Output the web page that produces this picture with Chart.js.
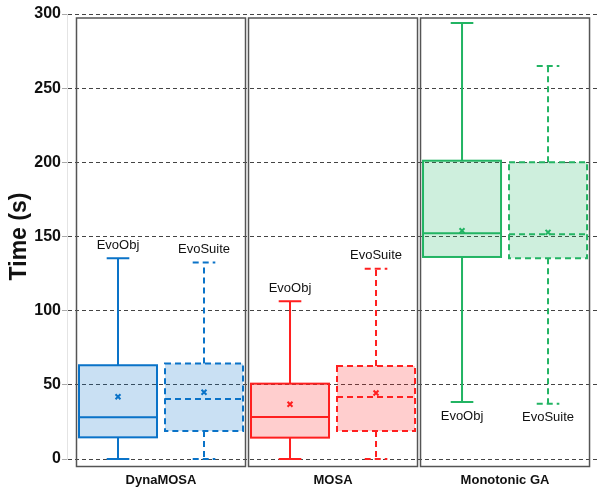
<!DOCTYPE html>
<html>
<head>
<meta charset="utf-8">
<script src="https://cdn.jsdelivr.net/npm/chart.js@4/dist/chart.umd.min.js"></script>
<style>
  html, body { margin: 0; padding: 0; background: #fff; }
  #wrap { width: 598px; height: 489px; }
</style>
</head>
<body>
<div id="wrap"><canvas id="c"></canvas></div>
<script>
// ---------------- data ----------------
const groups = ['DynaMOSA', 'MOSA', 'Monotonic GA'];
const tools = ['EvoObj', 'EvoSuite'];
// one entry per box: DynaMOSA/EvoObj, DynaMOSA/EvoSuite, MOSA/EvoObj, MOSA/EvoSuite, GA/EvoObj, GA/EvoSuite
const whiskerLow  = [0, 0, 0, 0, 38.4, 37.3];
const q1          = [14.6, 18.9, 14.4, 18.9, 136.2, 135.3];
const median      = [28.1, 40.4, 28.3, 41.8, 152.2, 151.5];
const q3          = [63.2, 64.3, 50.8, 62.7, 201.1, 200.0];
const whiskerHigh = [135.3, 132.4, 106.3, 128.3, 293.9, 265.0];
const mean        = [42.0, 45.0, 36.9, 44.5, 153.9, 152.8];
const yMin = 0, yMax = 300, yStep = 50;

// ---------------- styles ----------------
const groupColors = ['#0a73c8', '#ff1f1f', '#22b463'];
const fillAlpha = 0.22;
const dashPattern = [6, 4];
const font = 'Arial, "Liberation Sans", sans-serif';

function rgba(hex, a) {
  const n = parseInt(hex.slice(1), 16);
  return 'rgba(' + (n >> 16) + ',' + ((n >> 8) & 255) + ',' + (n & 255) + ',' + a + ')';
}
const boxColor = (i) => groupColors[Math.floor(i / 2)];
const isDashed = (i) => i % 2 === 1;

// ---------------- boxplot drawing ----------------
const boxPlugin = {
  id: 'boxes',
  afterDatasetDraw(chart, args) {
    if (args.index !== 0) return;
    const ctx = chart.ctx;
    const y = chart.scales.y;
    const bars = args.meta.data;
    ctx.save();
    bars.forEach((bar, i) => {
      const half = bar.width / 2;
      const cx = bar.x;
      const capHalf = bar.width * 0.145;
      ctx.strokeStyle = boxColor(i);
      ctx.lineWidth = 2;
      ctx.setLineDash(isDashed(i) ? dashPattern : []);
      const yQ1 = y.getPixelForValue(q1[i]);
      const yQ3 = y.getPixelForValue(q3[i]);
      const yMed = y.getPixelForValue(median[i]);
      const yLo = y.getPixelForValue(whiskerLow[i]);
      const yHi = y.getPixelForValue(whiskerHigh[i]);
      // box
      ctx.strokeRect(cx - half, yQ3, half * 2, yQ1 - yQ3);
      ctx.beginPath();
      // median
      ctx.moveTo(cx - half, yMed); ctx.lineTo(cx + half, yMed);
      // whiskers
      ctx.moveTo(cx, yQ3); ctx.lineTo(cx, yHi);
      ctx.moveTo(cx, yQ1); ctx.lineTo(cx, yLo);
      // caps
      ctx.moveTo(cx - capHalf, yHi); ctx.lineTo(cx + capHalf, yHi);
      ctx.moveTo(cx - capHalf, yLo); ctx.lineTo(cx + capHalf, yLo);
      ctx.stroke();
    });
    ctx.restore();
  },
  afterDraw(chart) {
    const ctx = chart.ctx;
    const x = chart.scales.x, y = chart.scales.y;
    const area = chart.chartArea;
    ctx.save();
    // group frames + group names
    groups.forEach((g, gi) => {
      const left = x.getPixelForValue(gi * 2 - 0.5) + 1.5;
      const right = x.getPixelForValue(gi * 2 + 1.5) - 1.5;
      const top = area.top + 4;
      const bottom = area.bottom + 7.5;
      ctx.strokeStyle = '#555';
      ctx.lineWidth = 1.5;
      ctx.setLineDash([]);
      ctx.strokeRect(left, top, right - left, bottom - top);
      ctx.fillStyle = '#111';
      ctx.font = 'bold 13px ' + font;
      ctx.textAlign = 'center';
      ctx.textBaseline = 'middle';
      ctx.fillText(g, (left + right) / 2, area.bottom + 21);
    });
    // tool labels above / below each box
    ctx.font = '13px ' + font;
    ctx.fillStyle = '#111';
    ctx.textAlign = 'center';
    ctx.textBaseline = 'middle';
    whiskerHigh.forEach((hi, i) => {
      const cx = x.getPixelForValue(i);
      const name = tools[i % 2];
      if (hi > 250) {
        ctx.fillText(name, cx, y.getPixelForValue(whiskerLow[i]) + 14);
      } else {
        ctx.fillText(name, cx, y.getPixelForValue(hi) - 13);
      }
    });
    ctx.restore();
  }
};

const idx = whiskerLow.map((_, i) => i);

new Chart(document.getElementById('c'), {
  type: 'bar',
  data: {
    datasets: [
      {
        type: 'bar',
        order: 2,
        data: idx.map((i) => ({ x: i, y: [q1[i], q3[i]] })),
        backgroundColor: idx.map((i) => rgba(boxColor(i), fillAlpha)),
        borderWidth: 0,
        categoryPercentage: 1,
        barPercentage: 0.907
      },
      {
        type: 'scatter',
        order: 1,
        data: idx.map((i) => ({ x: i, y: mean[i] })),
        pointStyle: 'crossRot',
        radius: 3.5,
        borderWidth: 2,
        borderColor: idx.map((i) => boxColor(i)),
        backgroundColor: idx.map((i) => boxColor(i))
      }
    ]
  },
  options: {
    responsive: true,
    maintainAspectRatio: false,
    animation: false,
    layout: { autoPadding: false, padding: { top: 14, right: 0, bottom: 30, left: 0 } },
    plugins: { legend: { display: false }, tooltip: { enabled: false } },
    scales: {
      x: {
        type: 'linear',
        min: -0.593,
        max: 5.581,
        offset: false,
        grid: { offset: false },
        display: false
      },
      y: {
        min: yMin,
        max: yMax,
        afterFit(scale) { scale.width = 67; },
        ticks: {
          stepSize: yStep,
          color: '#111',
          padding: 1,
          font: { family: font, size: 16, weight: 'bold' }
        },
        grid: {
          color: '#444',
          lineWidth: 1,
          tickLength: 5,
          tickColor: '#aaa'
        },
        border: { display: true, color: '#e4e4e4', width: 1, dash: [4, 3] },
        title: {
          display: true,
          text: 'Time (s)',
          color: '#111',
          padding: { top: 6, bottom: 0 },
          font: { family: font, size: 23, weight: 'bold' }
        }
      }
    }
  },
  plugins: [boxPlugin]
});
</script>
</body>
</html>
